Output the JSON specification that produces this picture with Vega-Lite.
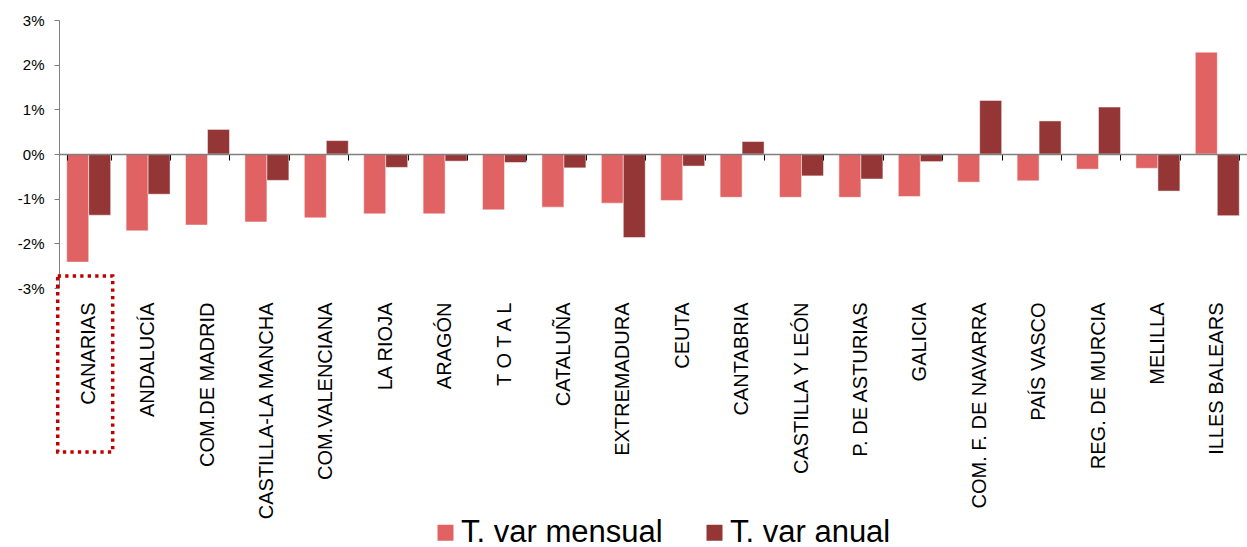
{
  "$schema": "https://vega.github.io/schema/vega-lite/v6.json",
  "width": 1188,
  "height": 268,
  "padding": {"left": 17, "top": 13, "right": 0, "bottom": 0},
  "background": "white",
  "config": {
    "view": {"stroke": null},
    "font": "Liberation Sans",
    "axis": {"labelFont": "Liberation Sans", "labelColor": "#000000"},
    "legend": {"labelFont": "Liberation Sans"}
  },
  "datasets": {
    "bars": [
      {"region": "CANARIAS", "serie": "T. var mensual", "value": -2.42},
      {"region": "CANARIAS", "serie": "T. var anual", "value": -1.37},
      {"region": "ANDALUCÍA", "serie": "T. var mensual", "value": -1.72},
      {"region": "ANDALUCÍA", "serie": "T. var anual", "value": -0.90},
      {"region": "COM.DE MADRID", "serie": "T. var mensual", "value": -1.59},
      {"region": "COM.DE MADRID", "serie": "T. var anual", "value": 0.55},
      {"region": "CASTILLA-LA MANCHA", "serie": "T. var mensual", "value": -1.52},
      {"region": "CASTILLA-LA MANCHA", "serie": "T. var anual", "value": -0.59},
      {"region": "COM.VALENCIANA", "serie": "T. var mensual", "value": -1.43},
      {"region": "COM.VALENCIANA", "serie": "T. var anual", "value": 0.30},
      {"region": "LA RIOJA", "serie": "T. var mensual", "value": -1.34},
      {"region": "LA RIOJA", "serie": "T. var anual", "value": -0.30},
      {"region": "ARAGÓN", "serie": "T. var mensual", "value": -1.34},
      {"region": "ARAGÓN", "serie": "T. var anual", "value": -0.16},
      {"region": "T O T A L", "serie": "T. var mensual", "value": -1.25},
      {"region": "T O T A L", "serie": "T. var anual", "value": -0.19},
      {"region": "CATALUÑA", "serie": "T. var mensual", "value": -1.19},
      {"region": "CATALUÑA", "serie": "T. var anual", "value": -0.31},
      {"region": "EXTREMADURA", "serie": "T. var mensual", "value": -1.10},
      {"region": "EXTREMADURA", "serie": "T. var anual", "value": -1.87},
      {"region": "CEUTA", "serie": "T. var mensual", "value": -1.04},
      {"region": "CEUTA", "serie": "T. var anual", "value": -0.27},
      {"region": "CANTABRIA", "serie": "T. var mensual", "value": -0.97},
      {"region": "CANTABRIA", "serie": "T. var anual", "value": 0.28},
      {"region": "CASTILLA Y LEÓN", "serie": "T. var mensual", "value": -0.97},
      {"region": "CASTILLA Y LEÓN", "serie": "T. var anual", "value": -0.49},
      {"region": "P. DE ASTURIAS", "serie": "T. var mensual", "value": -0.97},
      {"region": "P. DE ASTURIAS", "serie": "T. var anual", "value": -0.56},
      {"region": "GALICIA", "serie": "T. var mensual", "value": -0.95},
      {"region": "GALICIA", "serie": "T. var anual", "value": -0.17},
      {"region": "COM. F. DE NAVARRA", "serie": "T. var mensual", "value": -0.63},
      {"region": "COM. F. DE NAVARRA", "serie": "T. var anual", "value": 1.20},
      {"region": "PAÍS VASCO", "serie": "T. var mensual", "value": -0.60},
      {"region": "PAÍS VASCO", "serie": "T. var anual", "value": 0.74},
      {"region": "REG. DE MURCIA", "serie": "T. var mensual", "value": -0.34},
      {"region": "REG. DE MURCIA", "serie": "T. var anual", "value": 1.05},
      {"region": "MELILLA", "serie": "T. var mensual", "value": -0.32},
      {"region": "MELILLA", "serie": "T. var anual", "value": -0.83},
      {"region": "ILLES BALEARS", "serie": "T. var mensual", "value": 2.28},
      {"region": "ILLES BALEARS", "serie": "T. var anual", "value": -1.38}
    ],
    "box": [
      {"region": "CANARIAS", "top": -2.73, "bottom": -6.67}
    ]
  },
  "resolve": {"axis": {"x": "independent"}},
  "layer": [
    {
      "data": {"name": "bars"},
      "mark": {"type": "bar", "stroke": "#ffffff", "strokeWidth": 0.8, "strokeOpacity": 0.6},
      "encoding": {
        "x": {
          "field": "region", "type": "nominal",
          "scale": {
            "domain": ["CANARIAS", "ANDALUCÍA", "COM.DE MADRID", "CASTILLA-LA MANCHA", "COM.VALENCIANA", "LA RIOJA", "ARAGÓN", "T O T A L", "CATALUÑA", "EXTREMADURA", "CEUTA", "CANTABRIA", "CASTILLA Y LEÓN", "P. DE ASTURIAS", "GALICIA", "COM. F. DE NAVARRA", "PAÍS VASCO", "REG. DE MURCIA", "MELILLA", "ILLES BALEARS"],
            "paddingInner": 0.26, "paddingOuter": 0.13
          },
          "axis": {
            "orient": "bottom", "title": null, "domain": false, "ticks": false,
            "labelAngle": -90, "labelAlign": "right", "labelBaseline": "middle",
            "labelFontSize": 20, "labelPadding": 14, "labelLimit": 400
          }
        },
        "xOffset": {"field": "serie", "type": "nominal", "sort": ["T. var mensual", "T. var anual"], "scale": {"paddingInner": 0, "paddingOuter": 0}},
        "y": {
          "field": "value", "type": "quantitative",
          "scale": {"domain": [-3, 3], "nice": false, "zero": false},
          "axis": {
            "title": null, "values": [-3, -2, -1, 0, 1, 2, 3], "grid": false,
            "labelExpr": "datum.value + '%'", "labelFontSize": 15, "labelPadding": 10,
            "domainColor": "#7f7f7f", "tickColor": "#7f7f7f", "tickSize": 5
          }
        },
        "color": {
          "field": "serie", "type": "nominal",
          "scale": {"domain": ["T. var mensual", "T. var anual"], "range": ["#e06262", "#943636"]},
          "legend": {
            "title": null, "orient": "none", "direction": "horizontal",
            "legendX": 371, "legendY": 497, "padding": 0,
            "symbolType": "square", "symbolSize": 256, "symbolStrokeWidth": 0,
            "labelFontSize": 31, "labelOffset": 0, "columnPadding": 36, "labelLimit": 400
          }
        }
      }
    },
    {
      "data": {"name": "bars"},
      "mark": {"type": "point", "opacity": 0},
      "encoding": {
        "x": {
          "field": "region", "type": "nominal",
          "axis": {
            "orient": "bottom", "title": null, "offset": -134, "labels": false,
            "domain": true, "domainColor": "#808080", "domainWidth": 1.5,
            "ticks": true, "tickBand": "extent", "tickColor": "#000000", "tickSize": 6,
            "zindex": 1
          }
        },
        "y": {"datum": 0, "type": "quantitative"}
      }
    },
    {
      "data": {"name": "box"},
      "mark": {"type": "bar", "fill": "transparent", "stroke": "#c00000", "strokeWidth": 3.5, "strokeDash": [3.3, 4.2], "width": 55, "xOffset": -3.5, "clip": false},
      "encoding": {
        "x": {"field": "region", "type": "nominal", "axis": null},
        "y": {"field": "top", "type": "quantitative"},
        "y2": {"field": "bottom"}
      }
    }
  ]
}
